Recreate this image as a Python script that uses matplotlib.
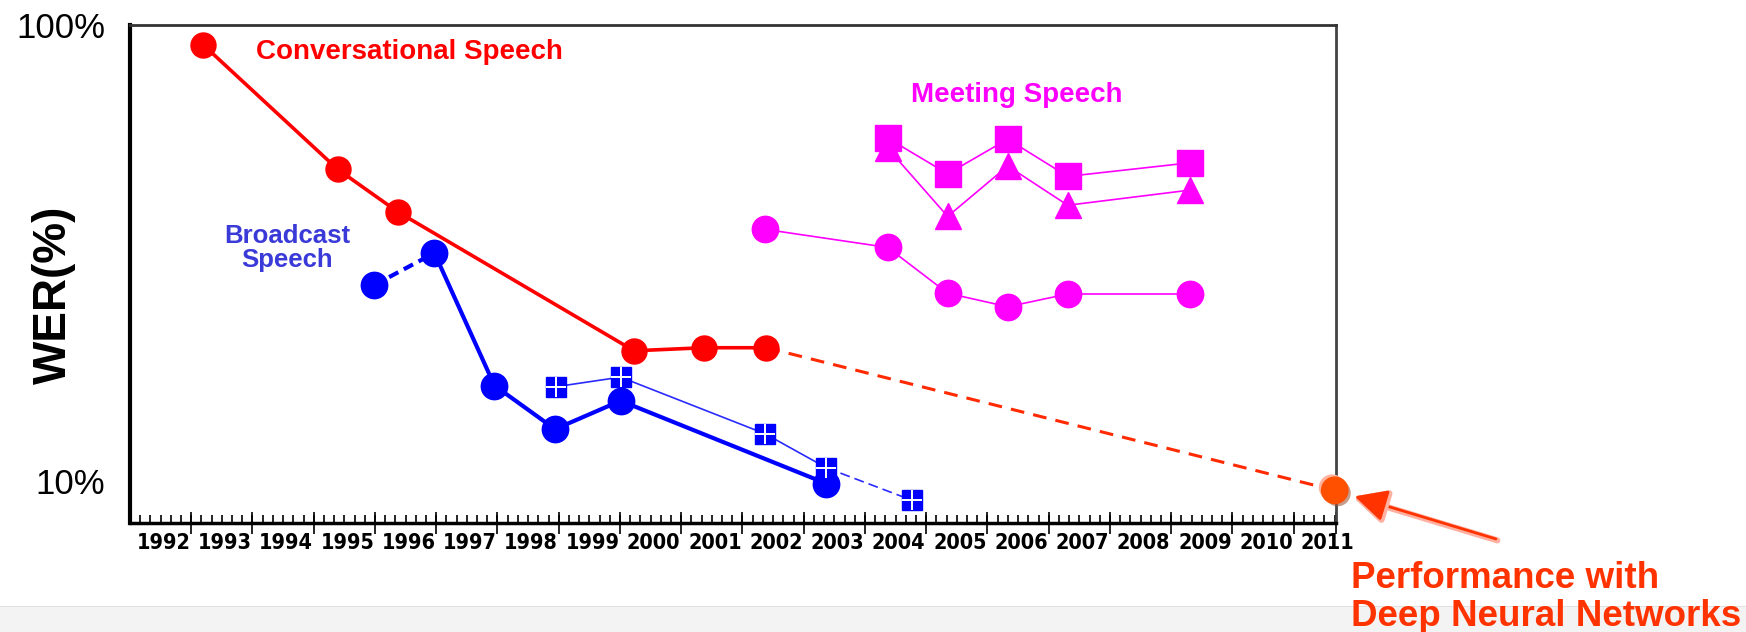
import matplotlib.pyplot as plt
import matplotlib.patheffects as pe
from matplotlib.patches import Rectangle
from matplotlib.lines import Line2D
from matplotlib.ticker import MultipleLocator, NullLocator

plt.rcParams['font.family'] = ['Liberation Sans', 'DejaVu Sans']

# ---- 数据（年份为连续值，整数年位于刻度标签中心） ----
years = list(range(1992, 2012))
year_labels = [str(y) for y in years]

# Conversational Speech
conv_year = [1992.64, 1994.84, 1995.82, 1999.68, 2000.82, 2001.84]
conv_wer = [90.4, 48.2, 38.9, 19.3, 19.6, 19.6]

# 深度神经网络的结果（2011）
dnn_year = 2011.12
dnn_wer = 9.55

# Broadcast Speech：圆点（粗线）和方块（细线）两组
bc_year = [1995.44, 1996.42, 1997.40, 1998.39, 1999.46, 2002.82]
bc_wer = [26.9, 31.6, 16.2, 13.0, 15.0, 9.88]
bs_year = [1998.40, 1999.46, 2001.82, 2002.82, 2004.22]
bs_wer = [16.1, 16.9, 12.7, 10.7, 9.08]

# Meeting Speech：方块、三角、圆点三组
mt_year = [2003.82, 2004.80, 2005.78, 2006.76, 2008.76]
mt_sq_wer = [56.4, 47.1, 56.1, 46.5, 49.8]
mt_tri_wer = [53.6, 38.0, 49.0, 40.2, 43.4]
mc_year = [2001.82, 2003.82, 2004.80, 2005.78, 2006.76, 2008.76]
mc_wer = [35.6, 32.5, 25.8, 24.1, 25.7, 25.7]

RED = '#ff0000'
BLUE = '#0000ff'
MAG = '#ff00ff'
ORANGE = '#ff3300'

W, H = 1746, 632
fig = plt.figure(figsize=(W / 100, H / 100), dpi=100)
ax = fig.add_axes([130 / W, 1 - 523 / H, (1336 - 130) / W, (523 - 24.5) / H])

# 底部的浅灰色条
fig.patches.append(Rectangle((0, 0), 1, (H - 607) / H, transform=fig.transFigure,
                             facecolor='#f3f3f3', edgecolor='none', zorder=0))
fig.lines.append(Line2D([0, 1], [(H - 607) / H] * 2, transform=fig.transFigure,
                        color='#dedede', lw=2, zorder=0))

ax.set_yscale('log')
ax.set_xlim(1991.45, 2011.14)
ax.set_ylim(8.1, 100)

# ---- 曲线 ----
ax.plot(conv_year, conv_wer, '-o', color=RED, lw=2.6, ms=18, zorder=5)
ax.plot([conv_year[-1], dnn_year], [conv_wer[-1], dnn_wer], color='#ff2a00',
        lw=2.2, dashes=(4.5, 3), zorder=3, clip_on=False)

ax.plot(bc_year[:2], bc_wer[:2], color=BLUE, lw=3, dashes=(2.5, 1.5), zorder=4)
ax.plot(bc_year[1:], bc_wer[1:], color=BLUE, lw=3, zorder=4)
ax.plot(bc_year, bc_wer, 'o', color=BLUE, ms=19, zorder=4)

ax.plot(bs_year[:4], bs_wer[:4], color='#2a2aff', lw=1.2, zorder=4)
ax.plot(bs_year[3:], bs_wer[3:], color='#2a2aff', lw=1.2, dashes=(6, 3), zorder=4)
ax.plot(bs_year, bs_wer, 's', color=BLUE, ms=14, zorder=5)
ax.plot(bs_year, bs_wer, '+', color='white', ms=14, mew=1.4, zorder=6)

ax.plot(mt_year, mt_sq_wer, '-s', color=MAG, lw=1.2, ms=19, zorder=4)
ax.plot(mt_year, mt_tri_wer, '-^', color=MAG, lw=1.2, ms=19, zorder=4)
ax.plot(mc_year, mc_wer, '-o', color=MAG, lw=1.2, ms=19, zorder=4)

# DNN 点：带浅色光晕和阴影
ax.plot([dnn_year], [dnn_wer], 'o', color='#ff5000', ms=19, zorder=7, clip_on=False,
        path_effects=[pe.SimplePatchShadow(offset=(-2, 2), shadow_rgbFace='#ffb4a0', alpha=1),
                      pe.SimplePatchShadow(offset=(2, -2), shadow_rgbFace='#a05a40', alpha=0.6),
                      pe.Normal()])

arr = ax.annotate('', xy=(dnn_year, dnn_wer), xycoords='data',
                  xytext=(116, -35), textcoords='offset points',
                  arrowprops=dict(arrowstyle='-|>,head_length=0.9,head_width=0.45',
                                  color=ORANGE, lw=2.0, shrinkA=0, shrinkB=15,
                                  mutation_scale=22),
                  annotation_clip=False, zorder=8)
arr.arrow_patch.set_path_effects([pe.Stroke(linewidth=4.5, foreground='#ffb0a0', offset=(1, -1)),
                                  pe.Normal()])

# ---- 坐标轴 ----
ax.set_yticks([10, 100], labels=['10%', '100%'])
ax.yaxis.set_minor_locator(NullLocator())
ax.tick_params(axis='y', which='both', length=0, pad=18, labelsize=25)

ax.set_xticks(years, labels=year_labels)
ax.tick_params(axis='x', which='major', length=0, pad=7)
for lab in ax.get_xticklabels():
    lab.set_fontfamily('DejaVu Sans')
    lab.set_fontstretch('condensed')
    lab.set_fontweight('bold')
    lab.set_fontsize(15.5)
ax.xaxis.set_minor_locator(MultipleLocator(1 / 6, offset=0.45))
ax.tick_params(axis='x', which='minor', direction='in', length=6, width=1.2)

sec = ax.secondary_xaxis('bottom')
sec.set_xticks([y + 0.45 for y in years[:-1]] + [2011.14])
sec.tick_params(direction='inout', length=16, width=1.2, labelbottom=False)
sec.spines['bottom'].set_visible(False)

ax.spines['left'].set_linewidth(3)
ax.spines['bottom'].set_linewidth(2.5)
ax.spines['top'].set_linewidth(2)
ax.spines['top'].set_color('#333333')
ax.spines['right'].set_linewidth(2)
ax.spines['right'].set_color('#444444')

fig.text(53.5 / W, 1 - 295 / H, 'WER(%)', rotation=90, ha='center', va='center',
         fontsize=33, fontweight='bold')

# ---- 文字标注 ----
fig.text(256 / W, 1 - 52 / H, 'Conversational Speech', color=RED, fontsize=20,
         fontweight='bold', ha='left', va='center')
fig.text(911 / W, 1 - 95 / H, 'Meeting Speech', color=MAG, fontsize=20,
         fontweight='bold', ha='left', va='center')
fig.text(287 / W, 1 - 248 / H, 'Broadcast\nSpeech', color='#3a3ad8', fontsize=18.5,
         fontweight='bold', ha='center', va='center', linespacing=1.0)
fig.text(1351 / W, 1 - 578 / H, 'Performance with', color=ORANGE, fontsize=26.5,
         fontweight='bold', ha='left', va='center', zorder=5)
fig.text(1351 / W, 1 - 617 / H, 'Deep Neural Networks', color=ORANGE, fontsize=26.5,
         fontweight='bold', ha='left', va='center', zorder=5)

fig.savefig('out.png', dpi=100)
